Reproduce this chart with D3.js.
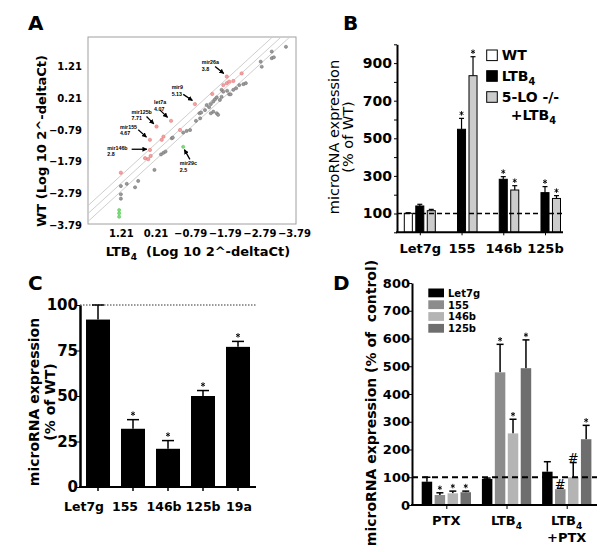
<!DOCTYPE html>
<html><head><meta charset="utf-8">
<script src="https://cdn.jsdelivr.net/npm/d3@7/dist/d3.min.js"></script>
<style>
body{margin:0;background:#fff}
svg text{font-family:"DejaVu Sans",sans-serif}
</style>
</head><body>
<svg id="fig" width="601" height="552"></svg>
<script>
// ===================== DATA =====================
// Panel A : scatter (LTB4 vs WT, Log10 2^-deltaCt)
const aTicks = [1.21, 0.21, -0.79, -1.79, -2.79, -3.79];
const aGrey = [
  [1.21,-2.56],[1.04,-2.49],[1.21,-2.82],[1.21,-2.96],[0.80,-2.60],[0.71,-2.40],
  [0.24,-2.05],[0.05,-1.56],[-0.02,-1.51],[-0.08,-1.47],[-0.26,-1.05],[-0.29,-1.03],
  [-0.59,-0.87],[-0.69,-0.82],[-0.79,-0.79],[-0.96,-0.50],[-1.08,-0.42],[-1.06,-0.26],
  [-1.11,-0.24],[-1.22,-0.16],[-1.34,-0.07],[-1.27,0.00],[-1.39,0.03],[-1.46,0.11],
  [-1.51,0.18],[-1.56,0.24],[-1.39,-0.26],[-1.46,-0.21],[-1.56,-0.26],[-1.60,-0.31],
  [-1.65,0.16],[-1.70,0.26],[-1.70,0.48],[-1.75,0.42],[-1.86,0.45],[-1.92,0.34],
  [-1.96,0.34],[-2.04,0.48],[-2.12,0.53],[-2.21,0.63],[-2.33,0.66],[-2.40,0.69],
  [-2.83,1.37],[-2.86,1.21],[-3.15,1.69],[-3.15,1.48],[-3.21,1.51],[-3.56,1.84]
];
const aRed = [
  [1.21,-2.14],[0.51,-1.68],[0.42,-1.71],[0.35,-1.61],[0.37,-1.42],[0.37,-1.10],
  [0.18,-0.68],[0.03,-1.10],[-0.02,-1.00],[-0.24,-0.50],[-0.50,-0.79],[-0.93,0.03],
  [-1.43,0.35],[-1.85,0.90],[-1.85,0.69],[-1.92,0.74],[-2.04,0.76],[-2.28,1.00],[-1.75,0.63]
];
const aGreen = [[1.26,-3.32],[1.26,-3.42],[1.26,-3.53],[-0.59,-1.32]];
const aDiagonalC = -1.27;          // WT = -LTB4 + c
const aFoldBand = [-0.25, 0, 0.25];
const aAnnotations = [
  {name:"mir26a", fold:"3.8",  x:-1.85, y:0.90},
  {name:"mir9",   fold:"5.13", x:-0.93, y:0.03},
  {name:"let7a",  fold:"4.07", x:-0.24, y:-0.50},
  {name:"mir125b",fold:"7.71", x:0.18,  y:-0.68},
  {name:"mir155", fold:"4.67", x:0.37,  y:-1.10},
  {name:"mir146b",fold:"2.8",  x:0.37,  y:-1.42},
  {name:"mir29c", fold:"2.5",  x:-0.59, y:-1.32}
];

// Panel B
const bCategories = ["Let7g","155","146b","125b"];
const bSeries = ["WT","LTB_4","5-LO -/-"];
const bWT      = [101, null, null, null];
const bWTErr   = [3, null, null, null];
const bLTB4    = [140, 548, 282, 211];
const bLTB4Err = [9, 58, 14, 32];
const b5LO     = [115, 833, 225, 180];
const b5LOErr  = [7, 101, 23, 15];
const bStarLTB4 = [false, true, true, true];
const bStar5LO  = [false, true, true, true];
const bTickLabels = [100, 300, 500, 700, 900];

// Panel C
const cCategories = ["Let7g","155","146b","125b","19a"];
const cValues = [92, 32, 21, 50, 77];
const cErr    = [8, 5, 4.5, 3, 3];
const cStars  = [false, true, true, true, true];
const cTicks  = [0, 25, 50, 75, 100];

// Panel D
const dGroups = ["PTX","LTB_4","LTB_4|+PTX"];
const dSeries = ["Let7g","155","146b","125b"];
const dLet7g  = [84, 94, 120];   const dLet7gErr = [16, 3, 36];
const d155    = [36, 478, 57];   const d155Err   = [8, 101, 3];
const d146b   = [42, 258, 100];  const d146bErr  = [8, 51, 53];
const d125b   = [46, 493, 237];  const d125bErr  = [4, 102, 50];
const dMarks = {
  "Let7g":["","",""], "155":["*","*","#"], "146b":["*","*","#"], "125b":["*","*","*"]
};
const dTicks = [0,100,200,300,400,500,600,700,800];

// ===================== HELPERS =====================
const svg = d3.select("#fig");
const defs = svg.append("defs");
defs.append("marker").attr("id","arr").attr("viewBox","0 0 10 10")
  .attr("refX",9).attr("refY",5).attr("markerWidth",5).attr("markerHeight",5)
  .attr("markerUnits","userSpaceOnUse").attr("orient","auto")
  .append("path").attr("d","M0,0L10,5L0,10z").attr("fill","#000");

function rich(textSel, str, fs){
  const segs = [];
  const re = /_(\w)/g; let last = 0, m;
  while ((m = re.exec(str))) { segs.push([str.slice(last, m.index), false]); segs.push([m[1], true]); last = re.lastIndex; }
  segs.push([str.slice(last), false]);
  let sub = false;
  segs.forEach(([s, isSub]) => {
    if (!s) return;
    const t = textSel.append("tspan").text(s);
    if (isSub) { t.attr("font-size", fs*0.7).attr("dy", fs*0.3); sub = true; }
    else if (sub) { t.attr("dy", -fs*0.3); sub = false; }
  });
}
function label(g, x, y, str, fs, opts={}){
  const t = g.append("text").attr("x",x).attr("y",y).attr("font-size",fs)
    .attr("font-weight", opts.weight || "bold").attr("text-anchor", opts.anchor || "start")
    .attr("fill","#000");
  if (opts.rotate) t.attr("transform",`rotate(-90,${x},${y})`);
  rich(t, str, fs);
  return t;
}
function styleAxis(g, fs, weight){
  g.attr("font-family","DejaVu Sans, sans-serif").attr("font-size",fs).attr("font-weight",weight||"bold");
  g.selectAll("text").attr("fill","#000");
  g.selectAll("line").attr("stroke","#000");
}
const starPath = d3.symbol(d3.symbolAsterisk, 14)();
function star(g, x, y){
  g.append("path").attr("d", starPath).attr("transform",`translate(${x},${y})`)
    .attr("fill","none").attr("stroke","#000").attr("stroke-width",0.9);
}

// ===================== PANEL A =====================
const gA = svg.append("g");
const ax = d3.scaleLinear().domain([2.16, -3.85]).range([88, 296]);
const ay = d3.scaleLinear().domain([-3.76, 2.15]).range([224, 37]);
defs.append("clipPath").attr("id","clipA").append("rect")
  .attr("x",88).attr("y",37).attr("width",208).attr("height",187);
gA.append("rect").attr("x",88).attr("y",37).attr("width",208).attr("height",187)
  .attr("fill","#fff").attr("stroke","#a0a0a0").attr("stroke-width",1);
const lineG = gA.append("g").attr("clip-path","url(#clipA)");
aFoldBand.forEach(off => {
  const xs = ax.domain();
  lineG.append("line")
    .attr("x1", ax(xs[0])).attr("y1", ay(-xs[0] + aDiagonalC + off))
    .attr("x2", ax(xs[1])).attr("y2", ay(-xs[1] + aDiagonalC + off))
    .attr("stroke","#c8c8c8").attr("stroke-width",0.9);
});
const ptG = gA.append("g").attr("clip-path","url(#clipA)");
ptG.selectAll(".g").data(aGrey).join("circle")
  .attr("cx",d=>ax(d[0])).attr("cy",d=>ay(d[1])).attr("r",1.6)
  .attr("fill","#9a9a9a").attr("stroke","#6a6a6a").attr("stroke-width",0.5);
ptG.selectAll(".r").data(aRed).join("circle")
  .attr("cx",d=>ax(d[0])).attr("cy",d=>ay(d[1])).attr("r",1.7)
  .attr("fill","#f2a0a0").attr("stroke","#e07070").attr("stroke-width",0.5);
ptG.selectAll(".gr").data(aGreen).join("circle")
  .attr("cx",d=>ax(d[0])).attr("cy",d=>ay(d[1])).attr("r",1.6)
  .attr("fill","#7ddc7d").attr("stroke","#4cc04c").attr("stroke-width",0.5);

// annotation layout (pixel offsets from the target point)
const aAnnotLayout = {
  mir26a: {tx:-25, ty:-14.4, a:[-11.7,-10,-3,-3]},
  mir9:   {tx:-23.3, ty:-16.7, a:[-11.7,-9.7,-2.5,-3.5]},
  let7a:  {tx:-17, ty:-19, a:[-11,-10.7,-3.5,-3.5]},
  mir125b:{tx:-25, ty:-15, a:[-10,-10,-2.7,-2.7]},
  mir155: {tx:-30, ty:-13.3, a:[-11.7,-10,-3.5,-2.7]},
  mir146b:{tx:-42.7, ty:-2.3, a:[-18.3,-0.7,-3,-0.7]},
  mir29c: {tx:-3.3, ty:16.6, a:[6.7,12.6,1.2,2.8]}
};
aAnnotations.forEach(d => {
  const px = ax(d.x), py = ay(d.y), L = aAnnotLayout[d.name];
  gA.append("text").attr("x",px+L.tx).attr("y",py+L.ty+2)
    .attr("font-size",5.3).attr("font-weight","bold").attr("fill","#000")
    .style("font-family","Liberation Sans, Arial, sans-serif").text(d.name);
  gA.append("text").attr("x",px+L.tx).attr("y",py+L.ty+8.7)
    .attr("font-size",5.3).attr("font-weight","bold").attr("fill","#000")
    .style("font-family","Liberation Sans, Arial, sans-serif").text(d.fold);
  gA.append("line").attr("x1",px+L.a[0]).attr("y1",py+L.a[1])
    .attr("x2",px+L.a[2]).attr("y2",py+L.a[3])
    .attr("stroke","#000").attr("stroke-width",1.3).attr("marker-end","url(#arr)");
});
const aYAxis = gA.append("g").attr("transform","translate(88,0)")
  .call(d3.axisLeft(ay).tickValues(aTicks).tickSize(0).tickPadding(6).tickFormat(d3.format(".2f")));
aYAxis.select(".domain").remove(); styleAxis(aYAxis, 10);
const aXAxis = gA.append("g").attr("transform","translate(0,224)")
  .call(d3.axisBottom(ax).tickValues(aTicks).tickSize(0).tickPadding(6).tickFormat(d3.format(".2f")));
aXAxis.select(".domain").remove(); styleAxis(aXAxis, 10);
label(gA, 198, 256, "LTB_4  (Log 10 2^-deltaCt)", 13, {anchor:"middle"}).style("white-space","pre");
label(gA, 46, 141, "WT (Log 10 2^-deltaCt)", 13, {anchor:"middle", rotate:true});
label(svg, 28, 30, "A", 20);

// ===================== PANEL B =====================
const gB = svg.append("g");
const by = d3.scaleLinear().domain([0, 1000]).range([232.3, 44.3]);
const bx = d3.scalePoint().domain(bCategories).range([419.8, 545]);
const bInner = d3.scaleBand().domain(bSeries).range([-15.5, 15.5]).paddingInner(0.3);
const bData = [
  {s:bSeries[0], v:bWT, e:bWTErr, st:[false,false,false,false], fill:"#fff"},
  {s:bSeries[1], v:bLTB4, e:bLTB4Err, st:bStarLTB4, fill:"#000"},
  {s:bSeries[2], v:b5LO, e:b5LOErr, st:bStar5LO, fill:"#cccccc"}
];
bData.forEach(ser => {
  bCategories.forEach((c, i) => {
    const v = ser.v[i]; if (v == null) return;
    const x0 = bx(c) + bInner(ser.s), w = bInner.bandwidth(), cxm = x0 + w/2;
    const top = by(v + ser.e[i]);
    gB.append("line").attr("x1",cxm).attr("x2",cxm).attr("y1",by(v)).attr("y2",top)
      .attr("stroke","#000").attr("stroke-width",1.2);
    gB.append("line").attr("x1",cxm-2.5).attr("x2",cxm+2.5).attr("y1",top).attr("y2",top)
      .attr("stroke","#000").attr("stroke-width",1.2);
    gB.append("rect").attr("x",x0).attr("y",by(v)).attr("width",w).attr("height",by(0)-by(v))
      .attr("fill",ser.fill).attr("stroke","#000").attr("stroke-width",1);
    if (ser.st[i]) star(gB, cxm, top - 5);
  });
});
gB.append("line").attr("x1",397).attr("x2",563).attr("y1",by(100)).attr("y2",by(100))
  .attr("stroke","#000").attr("stroke-width",1.5).attr("stroke-dasharray","5,3");
const bYAxis = gB.append("g").attr("transform","translate(397,0)")
  .call(d3.axisLeft(by).tickValues(d3.range(0,1001,100)).tickSize(3).tickSizeOuter(0).tickPadding(2)
    .tickFormat(d => bTickLabels.includes(d) ? d : ""));
styleAxis(bYAxis, 14); bYAxis.select(".domain").attr("stroke","#000").attr("stroke-width",2);
gB.append("line").attr("x1",396).attr("x2",563).attr("y1",by(0)).attr("y2",by(0)).attr("stroke","#000").attr("stroke-width",2);
const bXAxis = gB.append("g").attr("transform",`translate(0,${by(0)})`)
  .call(d3.axisBottom(bx).tickSize(3).tickPadding(8));
bXAxis.select(".domain").remove(); styleAxis(bXAxis, 13);
label(gB, 339, 137, "microRNA expression", 14.5, {anchor:"middle", rotate:true, weight:"normal"});
label(gB, 353, 137, "(% of WT)", 14.5, {anchor:"middle", rotate:true, weight:"normal"});
// legend
const bLegY = [50, 70.7, 91.7];
bData.forEach((ser, i) => {
  gB.append("rect").attr("x",486.7).attr("y",bLegY[i]).attr("width",10.6).attr("height",10.6)
    .attr("fill",ser.fill).attr("stroke","#000").attr("stroke-width",1);
  label(gB, 501.7, bLegY[i] + 10.3, ser.s, 14);
});
label(gB, 510.7, 120, "+LTB_4", 14);
label(svg, 343, 30, "B", 20);

// ===================== PANEL C =====================
const gC = svg.append("g");
const cy = d3.scaleLinear().domain([0, 100]).range([487, 305]);
const cx = d3.scaleBand().domain(cCategories).range([80.5, 255.5]).paddingInner(0.314).paddingOuter(0.157);
const cLabelShift = [-14, -8, -4, 0, 1];   // label nudges as placed in the original
gC.append("line").attr("x1",80).attr("x2",256).attr("y1",cy(100)).attr("y2",cy(100))
  .attr("stroke","#333").attr("stroke-width",1).attr("stroke-dasharray","1.5,1.5");
cCategories.forEach((c, i) => {
  const x0 = cx(c), w = cx.bandwidth(), m = x0 + w/2, v = cValues[i], top = cy(v + cErr[i]);
  gC.append("line").attr("x1",m).attr("x2",m).attr("y1",cy(v)).attr("y2",top).attr("stroke","#000").attr("stroke-width",1.5);
  gC.append("line").attr("x1",m-6).attr("x2",m+6).attr("y1",top).attr("y2",top).attr("stroke","#000").attr("stroke-width",1.5);
  gC.append("rect").attr("x",x0).attr("y",cy(v)).attr("width",w).attr("height",cy(0)-cy(v)).attr("fill","#000");
  if (cStars[i]) star(gC, m, top - 6);
});
const cYAxis = gC.append("g").attr("transform","translate(80,0)")
  .call(d3.axisLeft(cy).tickValues(cTicks).tickSize(4).tickSizeOuter(0).tickPadding(-2));
styleAxis(cYAxis, 15); cYAxis.select(".domain").attr("stroke","#000").attr("stroke-width",2.5);
const cXAxis = gC.append("g").attr("transform",`translate(0,${cy(0)})`)
  .call(d3.axisBottom(cx).tickSize(4).tickSizeOuter(0).tickPadding(11));
styleAxis(cXAxis, 12.5); cXAxis.select(".domain").attr("stroke","#000").attr("stroke-width",2).attr("d","M79,0H256");
cXAxis.selectAll(".tick line").attr("stroke-width",1.5);
cXAxis.selectAll(".tick text").attr("dx",(d,i)=>cLabelShift[i]);
label(gC, 38.5, 402, "microRNA expression", 14, {anchor:"middle", rotate:true});
label(gC, 55, 402, "(% of WT)", 14, {anchor:"middle", rotate:true});
label(svg, 28, 290, "C", 20);

// ===================== PANEL D =====================
const gD = svg.append("g");
const dy = d3.scaleLinear().domain([0, 800]).range([505, 283]);
const dx = d3.scalePoint().domain(dGroups).range([446.3, 566.7]);
const dInner = d3.scaleBand().domain(dSeries).range([-24.6, 24.7]).paddingInner(0.19);
const dColors = {"Let7g":"#000000","155":"#8c8c8c","146b":"#b4b4b4","125b":"#6e6e6e"};
const dData = [
  {s:"Let7g", v:dLet7g, e:dLet7gErr},
  {s:"155", v:d155, e:d155Err},
  {s:"146b", v:d146b, e:d146bErr},
  {s:"125b", v:d125b, e:d125bErr}
];
dData.forEach(ser => {
  dGroups.forEach((g, i) => {
    const x0 = dx(g) + dInner(ser.s), w = dInner.bandwidth(), m = x0 + w/2, v = ser.v[i], top = dy(v + ser.e[i]);
    gD.append("line").attr("x1",m).attr("x2",m).attr("y1",dy(v)).attr("y2",top).attr("stroke","#000").attr("stroke-width",1.5);
    gD.append("line").attr("x1",m-3.5).attr("x2",m+3.5).attr("y1",top).attr("y2",top).attr("stroke","#000").attr("stroke-width",1.5);
    gD.append("rect").attr("x",x0).attr("y",dy(v)).attr("width",w).attr("height",dy(0)-dy(v)).attr("fill",dColors[ser.s]);
    const mk = dMarks[ser.s][i];
    if (mk === "*") star(gD, m, top - 5);
    if (mk === "#") gD.append("text").attr("x",m).attr("y",top-0.5).attr("text-anchor","middle")
      .attr("font-size",13).attr("fill","#000").text("#");
  });
});
gD.append("line").attr("x1",412).attr("x2",597).attr("y1",dy(100)).attr("y2",dy(100))
  .attr("stroke","#000").attr("stroke-width",2).attr("stroke-dasharray","6,4");
const dYAxis = gD.append("g").attr("transform","translate(412,0)")
  .call(d3.axisLeft(dy).tickValues(dTicks).tickSize(3).tickSizeOuter(0).tickPadding(-1));
styleAxis(dYAxis, 13); dYAxis.select(".domain").attr("stroke","#000").attr("stroke-width",2);
const dXAxis = gD.append("g").attr("transform",`translate(0,${dy(0)})`)
  .call(d3.axisBottom(dx).tickSize(4).tickFormat(""));
dXAxis.select(".domain").attr("d","M411,0H597").attr("stroke","#000").attr("stroke-width",2);
styleAxis(dXAxis, 13);
dGroups.forEach(g => {
  g.split("|").forEach((line, j) => label(gD, dx(g), 525 + j*16.7, line, 13, {anchor:"middle"}));
});
label(gD, 376, 403, "microRNA expression (% of  control)", 14, {anchor:"middle", rotate:true}).style("white-space","pre");
// legend
const dLegY = [288.5, 300.3, 312.1, 323.9];
dSeries.forEach((s, i) => {
  gD.append("rect").attr("x",428.3).attr("y",dLegY[i]).attr("width",15.7).attr("height",8.8).attr("fill",dColors[s]);
  label(gD, 448, dLegY[i] + 8.3, s, 10);
});
label(svg, 333, 290, "D", 20);
</script>
</body></html>
